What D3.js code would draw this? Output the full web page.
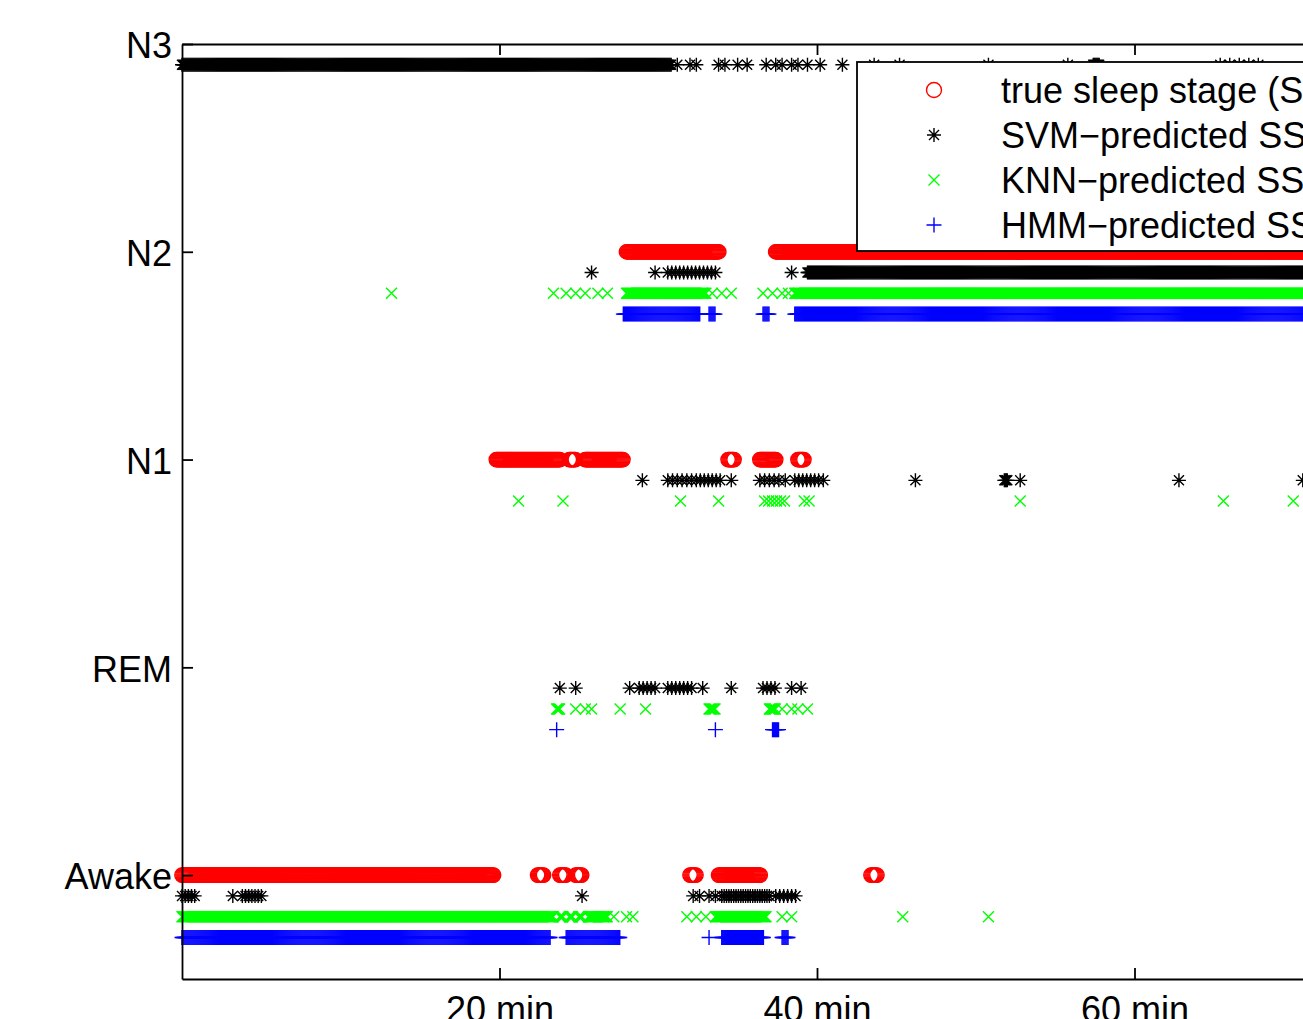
<!DOCTYPE html>
<html>
<head>
<meta charset="utf-8">
<script src="https://cdn.jsdelivr.net/npm/d3@7"></script>
<style>
  body { margin: 0; background: #fff; overflow: hidden; }
  text { font-family: "Liberation Sans", Arial, Helvetica, sans-serif; }
</style>
</head>
<body>
<div id="chart"></div>
<script>
var svgWidth = 1303;
var svgHeight = 1019;

// stage levels: Awake=1 ... N3=5
var stageNames = ["Awake", "REM", "N1", "N2", "N3"];
var xTicks = [20, 40, 60, 80];
var epochMin = 0.0625;   // sampling step of the scored signal

// runs: [stage, start min, end min, (optional) spacing]
var trueRuns = [
  ["Awake", 0, 19.6], ["Awake", 22.4, 22.8], ["Awake", 23.8, 24.2], ["Awake", 24.8, 25.2],
  ["Awake", 32.0, 32.4], ["Awake", 33.8, 36.4], ["Awake", 43.4, 43.8],
  ["N1", 19.8, 23.8], ["N1", 24.4, 24.8], ["N1", 25.4, 27.8], ["N1", 34.4, 34.8],
  ["N1", 36.4, 37.4], ["N1", 38.8, 39.2],
  ["N2", 28.0, 33.8], ["N2", 37.4, 76]
];

var svmRuns = [
  ["N3", 0, 30.8], ["N3", 31.2, 31.2], ["N3", 32.0, 32.0], ["N3", 32.4, 32.4],
  ["N3", 33.8, 33.8], ["N3", 34.2, 34.2], ["N3", 35.0, 35.0], ["N3", 35.6, 35.6],
  ["N3", 36.8, 36.8], ["N3", 37.4, 37.4], ["N3", 37.8, 37.8], ["N3", 38.4, 38.4],
  ["N3", 38.8, 38.8], ["N3", 39.4, 39.4], ["N3", 40.2, 40.2], ["N3", 41.6, 41.6],
  ["N3", 43.6, 43.6], ["N3", 45.2, 45.2], ["N3", 50.8, 50.8], ["N3", 55.8, 55.8],
  ["N3", 57.4, 57.8], ["N3", 65.4, 65.4], ["N3", 66.0, 66.0], ["N3", 66.6, 66.6],
  ["N3", 67.2, 67.2], ["N3", 67.8, 67.8],
  ["N2", 25.8, 25.8], ["N2", 29.8, 29.8], ["N2", 30.6, 33.6, 0.25], ["N2", 38.4, 38.4], ["N2", 39.4, 76],
  ["N1", 29.0, 29.0], ["N1", 30.6, 32.2, 0.3], ["N1", 32.4, 34.0, 0.25], ["N1", 34.6, 34.6],
  ["N1", 36.4, 37.6, 0.3], ["N1", 38.0, 38.0], ["N1", 38.6, 40.0, 0.25], ["N1", 40.4, 40.4],
  ["N1", 46.2, 46.2], ["N1", 51.8, 52.0], ["N1", 52.8, 52.8], ["N1", 62.8, 62.8], ["N1", 70.6, 70.6],
  ["REM", 23.8, 23.8], ["REM", 24.8, 24.8], ["REM", 28.2, 28.2], ["REM", 28.8, 29.8, 0.25],
  ["REM", 30.6, 32.0, 0.25], ["REM", 32.8, 32.8], ["REM", 34.6, 34.6], ["REM", 36.6, 37.4, 0.25],
  ["REM", 38.4, 38.4], ["REM", 39.0, 39.0],
  ["Awake", 0, 0.8, 0.2], ["Awake", 3.2, 3.2], ["Awake", 3.8, 5.0, 0.2], ["Awake", 25.2, 25.2],
  ["Awake", 32.2, 32.2], ["Awake", 32.6, 32.6], ["Awake", 33.2, 33.2], ["Awake", 33.6, 33.6],
  ["Awake", 34.0, 37.0, 0.15], ["Awake", 37.4, 38.6, 0.25]
];

var knnRuns = [
  ["N2", 13.2, 13.2], ["N2", 23.4, 23.4], ["N2", 24.2, 24.2], ["N2", 24.8, 24.8],
  ["N2", 25.4, 25.4], ["N2", 26.2, 26.2], ["N2", 26.8, 26.8], ["N2", 28.0, 33.0],
  ["N2", 33.4, 33.4], ["N2", 34.0, 34.0], ["N2", 34.6, 34.6], ["N2", 36.6, 36.6],
  ["N2", 37.2, 37.2], ["N2", 37.8, 37.8], ["N2", 38.2, 38.2], ["N2", 38.6, 76],
  ["N1", 21.2, 21.2], ["N1", 24.0, 24.0], ["N1", 31.4, 31.4], ["N1", 33.8, 33.8],
  ["N1", 36.7, 38.0, 0.25], ["N1", 39.2, 39.5, 0.3], ["N1", 52.8, 52.8], ["N1", 65.6, 65.6], ["N1", 70.0, 70.0],
  ["REM", 23.6, 23.8], ["REM", 24.8, 24.8], ["REM", 25.4, 25.4], ["REM", 25.8, 25.8],
  ["REM", 27.6, 27.6], ["REM", 29.2, 29.2], ["REM", 33.2, 33.6], ["REM", 37.0, 37.4],
  ["REM", 37.8, 37.8], ["REM", 38.4, 38.4], ["REM", 38.8, 38.8], ["REM", 39.4, 39.4],
  ["Awake", 0, 23.4], ["Awake", 23.8, 24.0], ["Awake", 24.4, 24.6], ["Awake", 25.0, 25.2],
  ["Awake", 25.6, 26.8], ["Awake", 27.2, 27.2], ["Awake", 28.0, 28.0], ["Awake", 28.4, 28.4],
  ["Awake", 31.8, 31.8], ["Awake", 32.4, 32.4], ["Awake", 33.0, 33.0], ["Awake", 33.6, 36.8],
  ["Awake", 37.8, 37.8], ["Awake", 38.4, 38.4], ["Awake", 45.4, 45.4], ["Awake", 50.8, 50.8]
];

var hmmRuns = [
  ["N2", 27.8, 32.6], ["N2", 33.2, 33.6], ["N2", 36.6, 37.0], ["N2", 38.6, 76],
  ["REM", 23.6, 23.6], ["REM", 33.6, 33.6], ["REM", 37.2, 37.6],
  ["Awake", 0, 23.2], ["Awake", 24.2, 27.6], ["Awake", 33.2, 33.2],
  ["Awake", 34.0, 36.6], ["Awake", 37.8, 38.2]
];

var seriesNames = ["true sleep stage (SS)", "SVM\u2212predicted SS", "KNN\u2212predicted SS", "HMM\u2212predicted SS"];
var seriesColors = ["#ff0000", "#000000", "#00ff00", "#0000ff"];
var seriesOffsets = [0, -0.1, -0.2, -0.3];

function expandRuns(runs) {
  var pts = [];
  runs.forEach(function(r) {
    var level = stageNames.indexOf(r[0]) + 1;
    var step = r[3] || epochMin;
    var n = Math.round((r[2] - r[1]) / step);
    for (var i = 0; i <= n; i++) {
      pts.push({t: r[1] + i * step, level: level});
    }
  });
  return pts;
}

var x = d3.scaleLinear().domain([0, 80]).range([182, 182 + 80 * 15.875]);
var y = d3.scaleLinear().domain([0.5, 5]).range([979, 44]);

var svg = d3.select("#chart").append("svg")
  .attr("width", svgWidth)
  .attr("height", svgHeight);

// marker shapes
var markerPaths = [
  null,
  "M-7,0H7M0,-7V7M-5,-5L5,5M-5,5L5,-5",
  "M-5.5,-5.5L5.5,5.5M-5.5,5.5L5.5,-5.5",
  "M-7.5,0H7.5M0,-7.5V7.5"
];

function drawMarkers(g, pts, k) {
  if (k === 0) {
    g.selectAll("circle").data(pts).enter().append("circle")
      .attr("cx", d => x(d.t))
      .attr("cy", d => y(d.level + seriesOffsets[k]))
      .attr("r", 7.2)
      .attr("fill", "none")
      .attr("stroke", seriesColors[k])
      .attr("stroke-width", 1.4);
  } else {
    g.selectAll("path").data(pts).enter().append("path")
      .attr("transform", d => `translate(${x(d.t)},${y(d.level + seriesOffsets[k])})`)
      .attr("d", markerPaths[k])
      .attr("fill", "none")
      .attr("stroke", seriesColors[k])
      .attr("stroke-width", 1.4);
  }
}

var allRuns = [trueRuns, svmRuns, knnRuns, hmmRuns];
allRuns.forEach(function(runs, k) {
  drawMarkers(svg.append("g"), expandRuns(runs), k);
});

// axes (ticks point inward, like the original)
var leftAxis = d3.axisLeft(y)
  .tickValues([1, 2, 3, 4, 5])
  .tickFormat(d => stageNames[d - 1])
  .tickSizeInner(-11)
  .tickSizeOuter(0)
  .tickPadding(10);

var bottomAxis = d3.axisBottom(x)
  .tickValues(xTicks)
  .tickFormat(d => d + " min")
  .tickSizeInner(-11)
  .tickSizeOuter(0)
  .tickPadding(17);

var topAxis = d3.axisTop(x)
  .tickValues(xTicks)
  .tickFormat("")
  .tickSizeInner(-11)
  .tickSizeOuter(0);

var rightAxis = d3.axisRight(y)
  .tickValues([1, 2, 3, 4, 5])
  .tickFormat("")
  .tickSizeInner(-11)
  .tickSizeOuter(0);

var yAxisG = svg.append("g").attr("transform", "translate(182,0)").call(leftAxis);
var xAxisG = svg.append("g").attr("transform", "translate(0,979)").call(bottomAxis);
var topG = svg.append("g").attr("transform", "translate(0,44)").call(topAxis);
var rightG = svg.append("g").attr("transform", `translate(${x(80)},0)`).call(rightAxis);

[yAxisG, xAxisG, topG, rightG].forEach(function(g) {
  g.selectAll("path, line").attr("stroke", "#000").attr("stroke-width", 1.8);
  g.selectAll("text")
    .attr("fill", "#000")
    .style("font-size", "36px")
    .style("font-family", '"Liberation Sans", Arial, sans-serif');
});
yAxisG.selectAll("text").attr("dy", "0.38em");

// legend
var legend = svg.append("g");
legend.append("rect")
  .attr("x", 857).attr("y", 62)
  .attr("width", 620).attr("height", 189)
  .attr("fill", "#fff")
  .attr("stroke", "#000")
  .attr("stroke-width", 1.8);

var legendRowY = [90, 135, 180, 225];
seriesNames.forEach(function(name, k) {
  var cy = legendRowY[k];
  if (k === 0) {
    legend.append("circle")
      .attr("cx", 934).attr("cy", cy).attr("r", 7.5)
      .attr("fill", "none").attr("stroke", seriesColors[k]).attr("stroke-width", 1.4);
  } else {
    legend.append("path")
      .attr("transform", `translate(934,${cy})`)
      .attr("d", markerPaths[k])
      .attr("fill", "none").attr("stroke", seriesColors[k]).attr("stroke-width", 1.4);
  }
  legend.append("text")
    .attr("x", 1001)
    .attr("y", cy + 13)
    .style("font-size", "36px")
    .attr("fill", "#000")
    .text(name);
});
</script>
</body>
</html>
